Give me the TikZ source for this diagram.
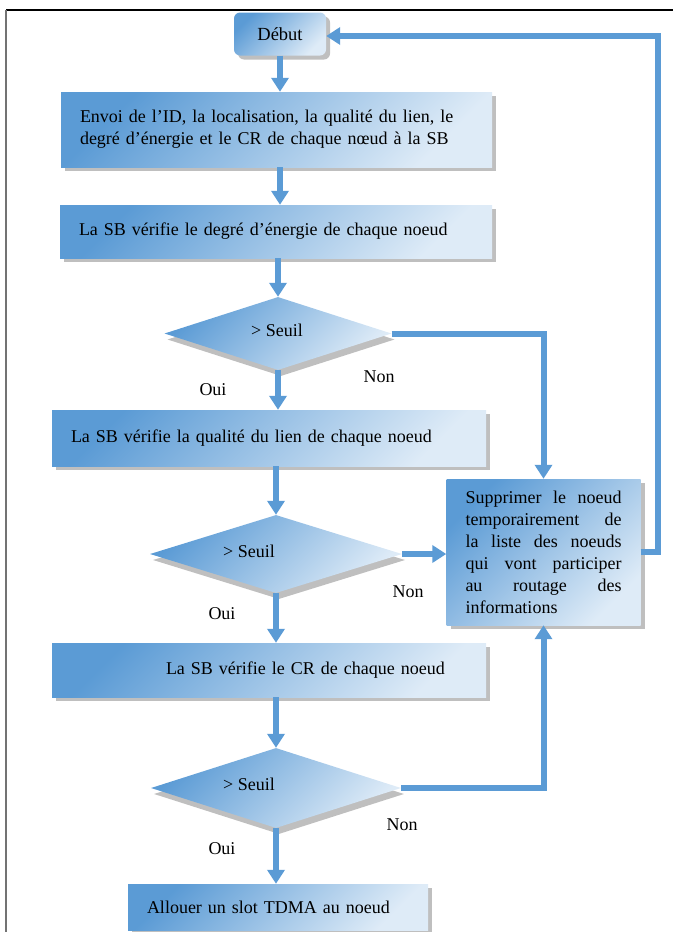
\documentclass[tikz,border=0pt]{standalone}
\usepackage{fontspec}
\setmainfont{Liberation Serif}
\usetikzlibrary{shapes.geometric,shadows,arrows.meta}
\definecolor{cblue}{HTML}{5B9BD5}
\definecolor{clight}{HTML}{DEEBF7}
\definecolor{shadowgray}{HTML}{BFBFBF}
% one fully justified line of the side box
\newcommand{\jline}[1]{\leavevmode\hbox to 156pt{\spaceskip=.25em plus 20em\relax #1}}
\begin{document}
\begin{tikzpicture}[x=1pt,y=-1pt,
  every node/.style={font=\fontsize{18}{22}\selectfont},
  grad/.style={top color=cblue, bottom color=clight, shading angle=45},
  procbox/.style={grad, rectangle, inner xsep=19pt, inner ysep=0pt, align=left,
    drop shadow={shadow xshift=4pt, shadow yshift=-4pt, fill=shadowgray, opacity=1}},
  startbox/.style={grad, rectangle, rounded corners=6pt, inner sep=0pt,
    drop shadow={shadow xshift=4pt, shadow yshift=-4pt, fill=shadowgray, opacity=1}},
  testdia/.style={grad, diamond, inner sep=0pt,
    drop shadow={shadow xshift=3pt, shadow yshift=-6pt, fill=shadowgray, opacity=1}},
  conn/.style={draw=cblue, line width=6pt},
  arr/.style={conn, -{Triangle[width=17pt,length=14pt]}},
  lbl/.style={inner sep=0pt}
]
\useasboundingbox (0,0) rectangle (673,932);

% page frame
\draw[black, line width=1.2pt] (6,10) -- (673,10);
\draw[black!55, line width=2pt] (6,10) -- (6,932);

% flow steps
\node[startbox, minimum width=92pt, minimum height=43pt, font=\fontsize{18.5}{22}\selectfont] (deb) at (280,34) {Début};
\node[procbox, minimum height=75pt, text width=393pt] (b1) at (276.5,129.5)
  {Envoi de l’ID, la localisation, la qualité du lien, le\\degré d’énergie et le CR de chaque nœud à la SB};
\node[procbox, minimum height=53pt, text width=394pt] (b2) at (276,231.5)
  {La SB vérifie le degré d’énergie de chaque noeud};
\node[testdia, minimum width=227pt, minimum height=73pt] (d1) at (278,333.5) {};
\node[lbl] (t1) at (277,330) {> Seuil};
\node[procbox, minimum height=56pt, text width=396pt] (b3) at (269,438)
  {La SB vérifie la qualité du lien de chaque noeud};
\node[testdia, minimum width=252pt, minimum height=78pt] (d2) at (276,554) {};
\node[lbl] (t2) at (249,551) {> Seuil};
\node[procbox, minimum height=54pt, text width=396pt] (b4) at (269,670)
  {\hspace*{95pt}La SB vérifie le CR de chaque noeud};
\node[testdia, minimum width=250pt, minimum height=80pt] (d3) at (276,788) {};
\node[lbl] (t3) at (249,784) {> Seuil};
\node[procbox, minimum height=46pt, text width=262pt] (b5) at (278,907)
  {Allouer un slot TDMA au noeud};
\node[procbox, minimum height=146pt, text width=156pt] (rb) at (543.5,552)
  {\jline{Supprimer le noeud}\\\jline{temporairement de}\\\jline{la liste des noeuds}\\
   \jline{qui vont participer}\\\jline{au routage des}\\informations};

% branch labels
\node[lbl] (o1) at (213,390) {Oui};
\node[lbl] (n1) at (379,377) {Non};
\node[lbl] (o2) at (222,614) {Oui};
\node[lbl] (n2) at (408,592) {Non};
\node[lbl] (o3) at (222,849) {Oui};
\node[lbl] (n3) at (402,825) {Non};

% main flow
\draw[arr] (deb.south) -- (deb.south |- b1.north);
\draw[arr] (deb.south |- b1.south) -- (deb.south |- b2.north);
\draw[arr] (d1.north |- b2.south) -- (d1.north);
\draw[arr] (d1.south) -- (d1.south |- b3.north);
\draw[arr] (d2.north |- b3.south) -- (d2.north);
\draw[arr] (d2.south) -- (d2.south |- b4.north);
\draw[arr] (d3.north |- b4.south) -- (d3.north);
\draw[arr] (d3.south) -- (d3.south |- b5.north);

% rejection branches
\draw[arr] (d1.east) -| (rb.north);
\draw[arr] (d2.east) -- (rb.west |- d2.east);
\draw[arr] (d3.east) -| (rb.south);

% loop back to the start
\draw[arr] (rb.east) -- ++(17,0) |- ([yshift=-2pt]deb.east);
\end{tikzpicture}
\end{document}
